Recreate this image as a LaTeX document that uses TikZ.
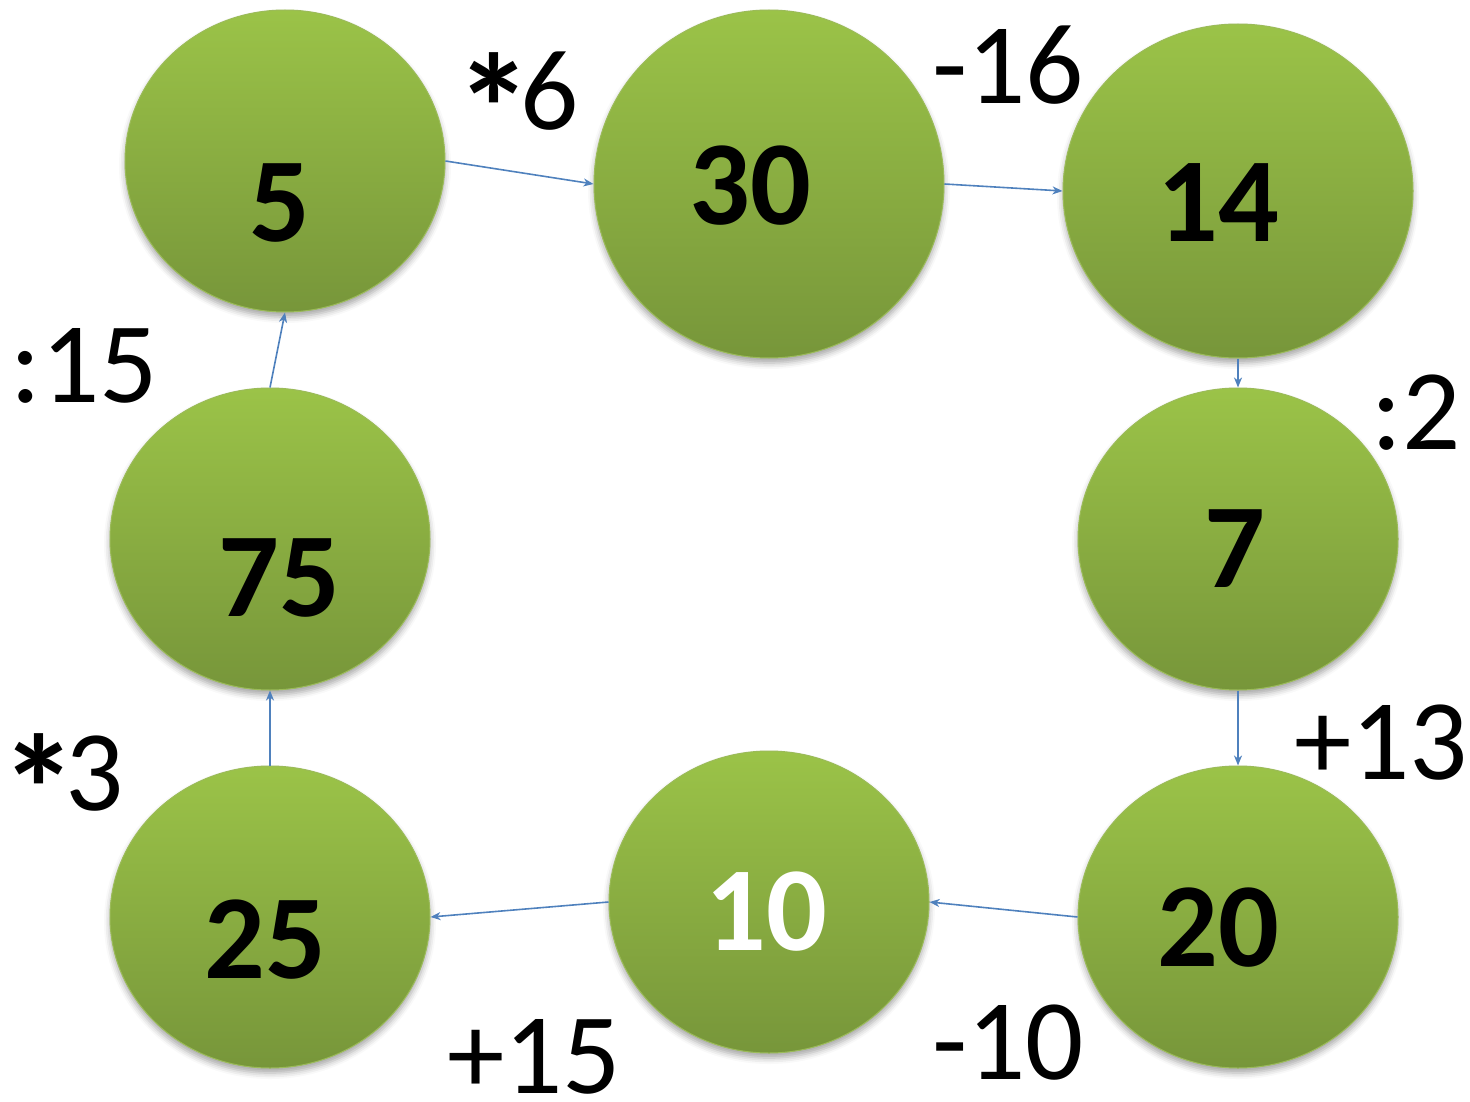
\documentclass[tikz,border=0pt]{standalone}
\usepackage{fontspec}
\setmainfont{Carlito}
\usetikzlibrary{shapes.geometric,arrows.meta,shadows.blur}
\definecolor{gtop}{HTML}{9BC348}
\definecolor{gbot}{HTML}{77963A}
\definecolor{gedge}{HTML}{9BBB59}
\definecolor{conn}{HTML}{4F81BD}
\newcommand{\bigast}{\raisebox{-34pt}{\fontsize{155}{155}\selectfont\bfseries *}\kern-12pt}
\tikzset{
  bubble/.style={ellipse, inner sep=0pt, top color=gtop, bottom color=gbot,
    draw=gedge, line width=1pt,
    blur shadow={shadow xshift=0pt, shadow yshift=-5pt, shadow blur radius=6pt, shadow opacity=35}},
  numtxt/.style={font=\fontsize{120}{120}\selectfont\bfseries, inner sep=0pt, text=black},
  optxt/.style={font=\fontsize{115}{115}\selectfont, inner sep=0pt, text=black},
  link/.style={draw=conn, line width=1.6pt, -{Stealth[length=10pt,width=8pt,inset=3pt]}}
}
\begin{document}
\begin{tikzpicture}[x=1pt,y=-1pt]
\useasboundingbox (0,0) rectangle (1470,1102);
% bubbles
\node[bubble, minimum width=320pt, minimum height=302pt] (n5)  at (285,161) {};
\node[bubble, minimum width=350pt, minimum height=348pt] (n30) at (769,184) {};
\node[bubble, minimum width=350pt, minimum height=334pt] (n14) at (1238,191) {};
\node[bubble, minimum width=320pt, minimum height=302pt] (n7)  at (1238,539) {};
\node[bubble, minimum width=320pt, minimum height=302pt] (n20) at (1238,917) {};
\node[bubble, minimum width=320pt, minimum height=302pt] (n10) at (769,902) {};
\node[bubble, minimum width=320pt, minimum height=302pt] (n25) at (270,917) {};
\node[bubble, minimum width=320pt, minimum height=302pt] (n75) at (270,539) {};
% numbers
\node[numtxt] (t5)  at (280,203) {5};
\node[numtxt] (t30) at (750,186) {30};
\node[numtxt] (t14) at (1218,203) {14};
\node[numtxt] (t7)  at (1235,549) {7};
\node[numtxt] (t20) at (1218,928) {20};
\node[numtxt, text=white] (t10) at (766,912) {10};
\node[numtxt] (t25) at (265,940) {25};
\node[numtxt] (t75) at (279,578) {75};
% operation labels
\node[optxt, anchor=base west] (o1) at (455,130) {\bigast 6};
\node[optxt] (o2) at (1008,65) {-16};
\node[optxt] (o3) at (1416,413) {:2};
\node[optxt] (o4) at (1381,743) {+13};
\node[optxt] (o5) at (1008,1043) {-10};
\node[optxt] (o6) at (534,1057) {+15};
\node[optxt, anchor=base west] (o7) at (0,810) {\bigast 3};
\node[optxt] (o8) at (84,366) {:15};
% connectors
\draw[link] (n5.east) -- (n30.west);
\draw[link] (n30.east) -- (n14.west);
\draw[link] (n14.south) -- (n7.north);
\draw[link] (n7.south) -- (n20.north);
\draw[link] (n20.west) -- (n10.east);
\draw[link] (n10.west) -- (n25.east);
\draw[link] (n25.north) -- (n75.south);
\draw[link] (n75.north) -- (n5.south);
\end{tikzpicture}
\end{document}
